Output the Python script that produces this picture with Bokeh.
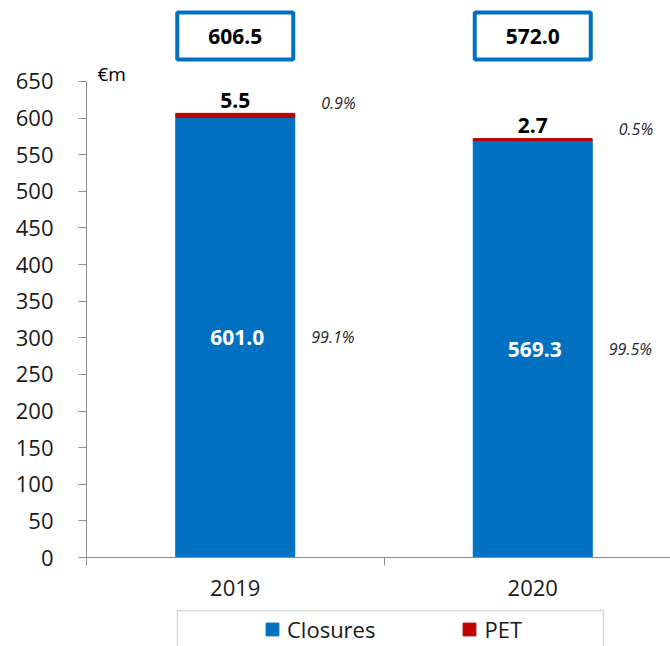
from bokeh.plotting import figure
from bokeh.models import Range1d, FixedTicker, Legend, LegendItem, ColumnDataSource, BoxAnnotation
from bokeh.layouts import column
from bokeh.embed import file_html
from bokeh.resources import INLINE
from bokeh.core.properties import value

# ---- data ----
years = ["2019", "2020"]
closures = [601.0, 569.3]
pet = [5.5, 2.7]
y_ticks = [0, 50, 100, 150, 200, 250, 300, 350, 400, 450, 500, 550, 600, 650]
series_names = ["Closures", "PET"]

# ---- derived ----
xs = [0.5, 1.5]
totals = [c + p for c, p in zip(closures, pet)]
mids = [c / 2 for c in closures]
pct_closures = [f"{c / t * 100:.1f}%" for c, t in zip(closures, totals)]
pct_pet = [f"{p / t * 100:.1f}%" for p, t in zip(pet, totals)]

FONT = "Open Sans"
BLUE = "#0070C0"
RED = "#C00000"
AXIS = "#8c8c8c"
TXT = "#1a1a1a"

src = ColumnDataSource(dict(
    x=xs, closures=closures, pet=pet, totals=totals, mids=mids,
    lab_c=[f"{v:.1f}" for v in closures],
    lab_p=[f"{v:.1f}" for v in pet],
    lab_t=[f"{v:.1f}" for v in totals],
    pct_c=pct_closures, pct_p=pct_pet,
))

p = figure(width=670, height=609, output_backend="svg", toolbar_location=None,
           x_range=Range1d(0, 1.963), y_range=Range1d(0, 760.6),
           min_border_left=86, min_border_right=0, min_border_top=0, min_border_bottom=52)
p.outline_line_color = None
p.grid.visible = False
p.background_fill_color = "white"

# bars
p.vbar(x="x", bottom=0, top="closures", width=0.4, source=src,
       fill_color=BLUE, line_color=BLUE)
p.vbar(x="x", bottom="closures", top="totals", width=0.4, source=src,
       fill_color=RED, line_color=RED)

# value labels
p.text(x="x", y="mids", text="lab_c", source=src, text_align="center",
       text_baseline="middle", text_color="white", text_font=value(FONT),
       text_font_size="21px", text_font_style="bold", x_offset=2)
p.text(x="x", y="totals", text="lab_p", source=src, text_align="center",
       text_baseline="middle", text_color="black", text_font=value(FONT),
       text_font_size="21px", text_font_style="bold", y_offset=-13)
p.text(x="x", y="mids", text="pct_c", source=src, text_align="left",
       text_baseline="middle", text_color="#262626", text_font=value(FONT),
       text_font_size="16px", text_font_style="italic", x_offset=76)
p.text(x="x", y="totals", text="pct_p", source=src, text_align="left",
       text_baseline="middle", text_color="#262626", text_font=value(FONT),
       text_font_size="16px", text_font_style="italic", x_offset=86, y_offset=-10)

# total boxes
TOTAL_Y = 712
p.rect(x="x", y=TOTAL_Y, width=116, height=47, width_units="screen",
       height_units="screen", source=src, fill_color="white",
       line_color=BLUE, line_width=4)
p.text(x="x", y=TOTAL_Y, text="lab_t", source=src, text_align="center",
       text_baseline="middle", text_color="black", text_font=value(FONT),
       text_font_size="21px", text_font_style="bold")

# unit label
p.text(x=[0], y=[650], text=["€m"], x_offset=11, text_align="left",
       text_baseline="middle", text_color="black", text_font=value(FONT),
       text_font_size="19px", y_offset=-7)

# y axis
ya = p.yaxis[0]
ya.ticker = FixedTicker(ticks=y_ticks)
ya.bounds = (0, 650)
ya.axis_line_color = AXIS
ya.major_tick_line_color = AXIS
ya.major_tick_in = 0
ya.major_tick_out = 8
ya.minor_tick_line_color = None
ya.major_label_standoff = 25
ya.major_label_text_font = FONT
ya.major_label_text_font_size = "22px"
ya.major_label_text_color = TXT

# x axis
xa = p.xaxis[0]
xa.ticker = FixedTicker(ticks=xs, minor_ticks=[0, 1, 2])
xa.major_label_overrides = {xs[0]: years[0], xs[1]: years[1]}
xa.axis_line_color = AXIS
xa.major_tick_line_color = None
xa.major_tick_in = 0
xa.major_tick_out = 8
xa.minor_tick_line_color = AXIS
xa.minor_tick_in = 0
xa.minor_tick_out = 8
xa.major_label_standoff = 14
xa.major_label_text_font = FONT
xa.major_label_text_font_size = "22px"
xa.major_label_text_color = TXT

# legend panel (same borders as the chart so the column keeps frames aligned)
lg = figure(width=670, height=37, output_backend="svg", toolbar_location=None,
            x_axis_location=None, y_axis_location=None,
            x_range=Range1d(0, 584), y_range=Range1d(0, 37),
            min_border_left=86, min_border_right=0, min_border_top=0, min_border_bottom=0)
lg.grid.visible = False
lg.outline_line_color = None
lg.add_layout(BoxAnnotation(left=91, right=517, top=36, bottom=-5,
                            fill_alpha=0, line_color="#808080", line_width=1.5))
r1 = lg.vbar(x="x", bottom=0, top="closures", width=0.4, source=src,
             fill_color=BLUE, line_color=BLUE, visible=False)
r2 = lg.vbar(x="x", bottom="closures", top="totals", width=0.4, source=src,
             fill_color=RED, line_color=RED, visible=False)
legend = Legend(items=[LegendItem(label=series_names[0], renderers=[r1]),
                       LegendItem(label=series_names[1], renderers=[r2])],
                orientation="horizontal", location=(178, 2), padding=0, margin=0,
                spacing=86, glyph_width=16, glyph_height=16, label_standoff=7,
                label_text_font=FONT, label_text_font_size="22px",
                label_text_color=TXT, border_line_color=None,
                background_fill_alpha=0)
lg.add_layout(legend, "center")

layout = column(p, lg, spacing=0)
open("out.html", "w").write(file_html(layout, INLINE))
